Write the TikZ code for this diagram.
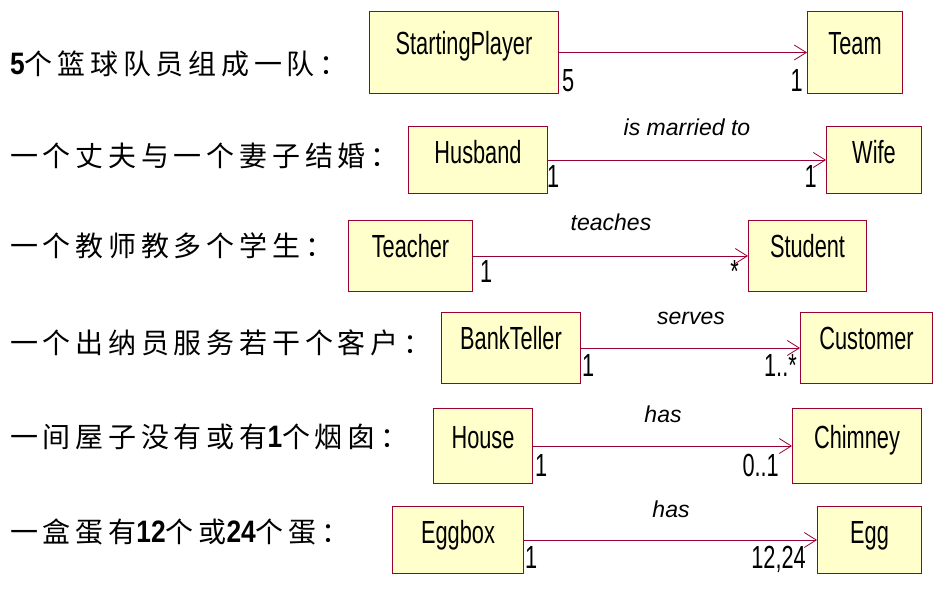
\documentclass[tikz,border=0pt]{standalone}
\usepackage{fontspec}
\usetikzlibrary{arrows.meta}
\setmainfont{Liberation Sans}
\newfontfamily\boxfont[FakeStretch=0.68]{Liberation Sans}
\newfontfamily\rolefont{Liberation Sans}
\newfontfamily\cjk[LetterSpace=17]{Noto Sans CJK SC}
\newfontfamily\bdig[FakeStretch=0.85]{Liberation Sans}
\definecolor{umlborder}{RGB}{153,0,51}
\definecolor{umlfill}{RGB}{255,255,204}
\newcommand{\bd}[1]{{\bdig\bfseries\fontsize{31}{34}\selectfont #1}}
\begin{document}
\begin{tikzpicture}[x=1pt,y=-1pt,
  cls/.style={draw=umlborder, fill=umlfill, line width=1pt, inner sep=0pt,
    anchor=north west, font=\boxfont\fontsize{32}{36}\selectfont},
  assoc/.style={draw=umlborder, line width=0.9pt,
    -{Straight Barb[length=12pt,width=15pt,line width=0.8pt]}},
  mult/.style={inner sep=0pt, font=\boxfont\fontsize{32}{36}\selectfont},
  role/.style={inner sep=0pt, anchor=base, font=\rolefont\itshape\fontsize{23}{26}\selectfont},
  desc/.style={inner sep=0pt, anchor=base west, font=\cjk\fontsize{28}{32}\selectfont}
]
\useasboundingbox (0,0) rectangle (940,596);
\fill[white] (0,0) rectangle (940,596);

% Row 1
\node[desc] (d1) at (10,75) {\bd{5}个篮球队员组成一队：};
\node[cls, minimum width=189pt, text height=43pt, text depth=39pt] (sp) at (369,11) {StartingPlayer};
\node[cls, minimum width=95pt, text height=43pt, text depth=39pt] (team) at (807,11) {Team};
\draw[assoc] (sp.east) -- (team.west);
\node[mult, anchor=base west] (m1a) at (562,92) {5};
\node[mult, anchor=base east] (m1b) at (803,92) {1};

% Row 2
\node[desc] (d2) at (10,167) {一个丈夫与一个妻子结婚：};
\node[cls, minimum width=139pt, text height=37pt, text depth=30pt] (husband) at (408,126) {Husband};
\node[cls, minimum width=95pt, text height=37pt, text depth=30pt] (wife) at (826,126) {Wife};
\draw[assoc] (husband.east) -- (wife.west);
\node[role] (r2) at (687,136) {is married to};
\node[mult, anchor=base west] (m2a) at (547,188) {1};
\node[mult, anchor=base east] (m2b) at (817,188) {1};

% Row 3
\node[desc] (d3) at (10,257) {一个教师教多个学生：};
\node[cls, minimum width=124pt, text height=37pt, text depth=34pt] (teacher) at (348,220) {Teacher};
\node[cls, minimum width=118pt, text height=37pt, text depth=34pt] (student) at (748,220) {Student};
\draw[assoc] (teacher.east) -- (student.west);
\node[role] (r3) at (611,231) {teaches};
\node[mult, anchor=base west] (m3a) at (480,283) {1};
\node[mult, anchor=base east] (m3b) at (739,283) {*};

% Row 4
\node[desc] (d4) at (10,353) {一个出纳员服务若干个客户：};
\node[cls, minimum width=139pt, text height=37pt, text depth=34pt] (teller) at (441,312) {BankTeller};
\node[cls, minimum width=132pt, text height=37pt, text depth=34pt] (customer) at (800,312) {Customer};
\draw[assoc] (teller.east) -- (customer.west);
\node[role] (r4) at (691,324) {serves};
\node[mult, anchor=base west] (m4a) at (582,376) {1};
\node[mult, anchor=base east] (m4b) at (797,376) {1..*};

% Row 5
\node[desc] (d5) at (10,447) {一间屋子没有或有\bd{1}个烟囱：};
\node[cls, minimum width=99pt, text height=40pt, text depth=35pt] (house) at (433,408) {House};
\node[cls, minimum width=129pt, text height=40pt, text depth=35pt] (chimney) at (792,408) {Chimney};
\draw[assoc] (house.east) -- (chimney.west);
\node[role] (r5) at (663,422) {has};
\node[mult, anchor=base west] (m5a) at (535,476) {1};
\node[mult, anchor=base east] (m5b) at (779,476) {0..1};

% Row 6
\node[desc] (d6) at (10,542) {一盒蛋有\bd{12}个或\bd{24}个蛋：};
\node[cls, minimum width=131pt, text height=37pt, text depth=30pt] (eggbox) at (392,506) {Eggbox};
\node[cls, minimum width=104pt, text height=37pt, text depth=30pt] (egg) at (817,506) {Egg};
\draw[assoc] (eggbox.east) -- (egg.west);
\node[role] (r6) at (671,517) {has};
\node[mult, anchor=base west] (m6a) at (525,568) {1};
\node[mult, anchor=base east] (m6b) at (806,568) {12,24};
\end{tikzpicture}
\end{document}
